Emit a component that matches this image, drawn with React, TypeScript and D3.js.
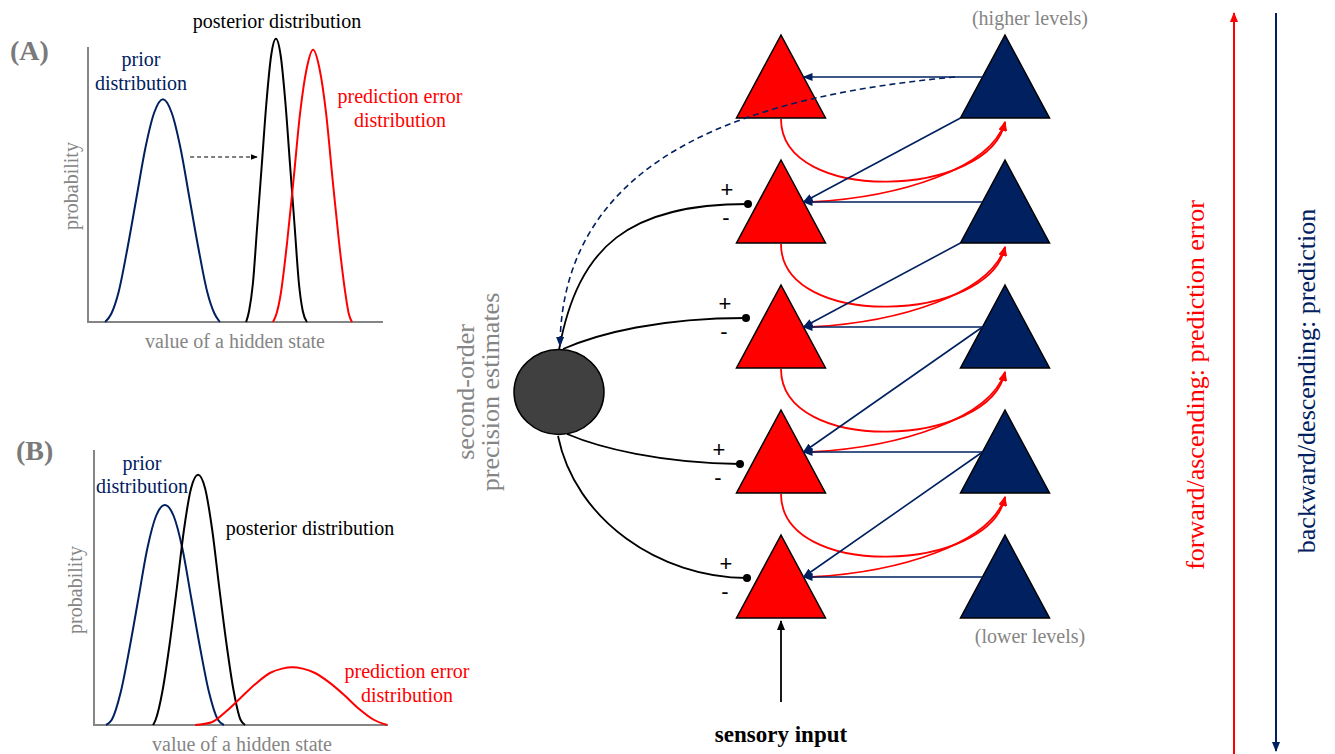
import React from 'react';
import * as d3 from 'd3';

// ---- distribution curves, panel (A): [value of hidden state, probability]
const priorA = [[5.8,0],[7.9,0.03],[10.4,0.11],[13.4,0.27],[16.4,0.45],[19.4,0.63],[22.4,0.76],[25.4,0.81],[28.4,0.76],[31.4,0.63],[34.4,0.45],[37.4,0.27],[40.4,0.11],[42.9,0.03],[44.7,0]];
const posteriorA = [[53.6,0],[54.6,0.04],[55.9,0.14],[57.3,0.34],[58.9,0.57],[60.5,0.8],[62.1,0.97],[63.7,1.03],[65.3,0.97],[66.9,0.8],[68.5,0.57],[70.1,0.34],[71.5,0.14],[72.8,0.04],[74.2,0]];
const errorA = [[62.7,0],[63.9,0.03],[65.3,0.1],[67.5,0.29],[69.7,0.52],[71.9,0.76],[74.1,0.92],[76.3,0.99],[78.5,0.92],[80.7,0.76],[82.9,0.52],[85.1,0.29],[87.3,0.1],[88.4,0.03],[89.5,0]];
const shiftA = [34.6, 57.3, 0.6]; // from, to, level of the dashed shift arrow

// ---- panel (B)
const priorB = [[4.1,0],[6.1,0.02],[9.1,0.12],[12.1,0.28],[15.1,0.46],[18.1,0.64],[21.1,0.76],[24.1,0.8],[27.1,0.76],[30.1,0.64],[33.1,0.46],[36.1,0.28],[39.1,0.12],[42.1,0.02],[44.2,0]];
const posteriorB = [[20.1,0],[21,0.02],[23.4,0.13],[25.8,0.3],[28.2,0.5],[30.6,0.71],[33,0.86],[35.4,0.91],[37.8,0.86],[40.2,0.71],[42.6,0.5],[45,0.3],[47.4,0.13],[49.8,0.02],[51.4,0]];
const errorB = [[34.4,0],[40,0.01],[45,0.05],[50,0.1],[55,0.15],[60,0.19],[64,0.205],[67.3,0.21],[71,0.205],[75,0.19],[80,0.155],[85,0.11],[90,0.06],[95,0.02],[99.7,0]];

// ---- hierarchy
const levels = [1, 2, 3, 4, 5];
const columns = ['error', 'prediction'];
const modulated = [2, 3, 4, 5];
const sideLabels = ['forward/ascending: prediction error', 'backward/descending: prediction'];

const RED = '#ff0000';
const NAVY = '#002060';
const GRAY = '#858585';
const SERIF = '"Liberation Serif", "Times New Roman", serif';

function Panel({ x, y, curves, children }) {
  const line = d3.line().x(d => x(d[0])).y(d => y(d[1])).curve(d3.curveMonotoneX);
  return (
    <g>
      <path d={`M${x(0)},${y(1)}V${y(0)}H${x(100)}`} fill="none" stroke={GRAY} strokeWidth={2} />
      {curves.map((c, i) => (
        <path key={i} d={line(c.data)} fill="none" stroke={c.color} strokeWidth={2} />
      ))}
      {children}
    </g>
  );
}

export default function App() {
  const xA = d3.scaleLinear().domain([0, 100]).range([88, 383]);
  const yA = d3.scaleLinear().domain([0, 1]).range([322, 47]);
  const xB = d3.scaleLinear().domain([0, 100]).range([94, 388]);
  const yB = d3.scaleLinear().domain([0, 1]).range([725, 450]);

  // apex of each level's triangles
  const yLevel = d3.scaleLinear().domain([1, 5]).range([35, 535]);
  const xCol = d3.scalePoint().domain(columns).range([781, 1005]);
  const H = 83, HW = 44.5;
  const rx = xCol('error'), bx = xCol('prediction');
  const arrowY = l => yLevel(l) + 42;
  const edge = 22.5; // half width at arrow height

  const tri = (cx, l) => {
    const t = yLevel(l);
    return `M${cx},${t}L${cx + HW},${t + H}L${cx - HW},${t + H}Z`;
  };

  // circle (second-order precision)
  const cx = 559, cy = 392;

  // modulatory connections from the circle to the error units
  const modPaths = {
    2: [[559, 350], [578, 245], [630, 204], [748, 204]],
    3: [[563, 349], [600, 333], [660, 318], [746, 318]],
    4: [[567, 434], [600, 448], [660, 463], [740, 464]],
    5: [[558, 436], [575, 520], [660, 578], [747, 578]],
  };
  const bez = p => {
    const path = d3.path();
    path.moveTo(p[0][0], p[0][1]);
    path.bezierCurveTo(p[1][0], p[1][1], p[2][0], p[2][1], p[3][0], p[3][1]);
    return path.toString();
  };

  return (
    <svg width={1335} height={754} style={{ position: 'absolute', left: 0, top: 0, display: 'block', background: '#fff' }}
      fontFamily={SERIF}>
      <defs>
        {[['navy', NAVY], ['red', RED], ['black', '#000']].map(([id, c]) => (
          <marker key={id} id={`ah-${id}`} viewBox="0 0 10 8" refX={9} refY={4} markerWidth={10} markerHeight={8}
            markerUnits="userSpaceOnUse" orient="auto">
            <path d="M0,0L10,4L0,8Z" fill={c} />
          </marker>
        ))}
        <marker id="ah-small" viewBox="0 0 10 8" refX={9} refY={4} markerWidth={7} markerHeight={6}
          markerUnits="userSpaceOnUse" orient="auto">
          <path d="M0,0L10,4L0,8Z" fill="#000" />
        </marker>
      </defs>

      {/* ---------- panel A ---------- */}
      <Panel x={xA} y={yA} curves={[
        { data: priorA, color: NAVY }, { data: posteriorA, color: '#000' }, { data: errorA, color: RED }]}>
        <line x1={xA(shiftA[0])} x2={xA(shiftA[1])} y1={yA(shiftA[2])} y2={yA(shiftA[2])} stroke="#000"
          strokeWidth={1.2} strokeDasharray="4,3" markerEnd="url(#ah-small)" />
      </Panel>
      <text x={10} y={60} fontSize={28} fontWeight="bold" fill="#7a7a7a">(A)</text>
      <text x={141} y={66} fontSize={20} fill={NAVY} textAnchor="middle">prior</text>
      <text x={141} y={90} fontSize={20} fill={NAVY} textAnchor="middle">distribution</text>
      <text x={277} y={28} fontSize={20} fill="#000" textAnchor="middle">posterior distribution</text>
      <text x={400} y={103} fontSize={20} fill={RED} textAnchor="middle">prediction error</text>
      <text x={400} y={127} fontSize={20} fill={RED} textAnchor="middle">distribution</text>
      <text transform="translate(78,186) rotate(-90)" fontSize={20} fill={GRAY} textAnchor="middle">probability</text>
      <text x={235} y={348} fontSize={20} fill={GRAY} textAnchor="middle">value of a hidden state</text>

      {/* ---------- panel B ---------- */}
      <Panel x={xB} y={yB} curves={[
        { data: priorB, color: NAVY }, { data: posteriorB, color: '#000' }, { data: errorB, color: RED }]} />
      <text x={16} y={460} fontSize={28} fontWeight="bold" fill="#7a7a7a">(B)</text>
      <text x={142} y={470} fontSize={20} fill={NAVY} textAnchor="middle">prior</text>
      <text x={142} y={493} fontSize={20} fill={NAVY} textAnchor="middle">distribution</text>
      <text x={310} y={535} fontSize={20} fill="#000" textAnchor="middle">posterior distribution</text>
      <text x={407} y={678} fontSize={20} fill={RED} textAnchor="middle">prediction error</text>
      <text x={407} y={702} fontSize={20} fill={RED} textAnchor="middle">distribution</text>
      <text transform="translate(82,590) rotate(-90)" fontSize={20} fill={GRAY} textAnchor="middle">probability</text>
      <text x={242} y={751} fontSize={20} fill={GRAY} textAnchor="middle">value of a hidden state</text>

      {/* ---------- hierarchy ---------- */}
      <text transform={`translate(474,${cy}) rotate(-90)`} fontSize={26} fill={GRAY} textAnchor="middle">second-order</text>
      <text transform={`translate(499,${cy}) rotate(-90)`} fontSize={26} fill={GRAY} textAnchor="middle">precision estimates</text>

      {levels.map(l => (
        <g key={l}>
          <path d={tri(rx, l)} fill={RED} stroke="#000" strokeWidth={1.5} />
          <path d={tri(bx, l)} fill={NAVY} stroke="#000" strokeWidth={1.5} />
        </g>
      ))}

      {/* ascending prediction errors */}
      {levels.slice(0, 4).map(l => {
        const base = yLevel(l) + H;
        const tip = [bx, base + 4];
        const a = bez([[rx, base + 1], [rx, base + 88], [990, base + 80], tip]);
        const b = bez([[rx + edge + 8, arrowY(l + 1)], [900, arrowY(l + 1) - 5], [990, arrowY(l + 1) - 33], tip]);
        return (
          <g key={l} fill="none" stroke={RED} strokeWidth={1.8}>
            <path d={a} markerEnd="url(#ah-red)" />
            <path d={b} markerEnd="url(#ah-red)" />
          </g>
        );
      })}

      {/* descending predictions */}
      {levels.map(l => (
        <line key={'h' + l} x1={bx - edge} x2={rx + edge} y1={arrowY(l)} y2={arrowY(l)}
          stroke={NAVY} strokeWidth={1.6} markerEnd="url(#ah-navy)" />
      ))}
      {levels.slice(0, 4).map(l => {
        const start = l <= 2 ? [bx - HW, yLevel(l) + H] : [bx - edge, arrowY(l)];
        return (
          <line key={'d' + l} x1={start[0]} y1={start[1]} x2={rx + edge} y2={arrowY(l + 1)}
            stroke={NAVY} strokeWidth={1.6} markerEnd="url(#ah-navy)" />
        );
      })}

      {/* precision */}
      <ellipse cx={cx} cy={cy} rx={45} ry={42.5} fill="#404040" stroke="#000" strokeWidth={1.5} />
      {modulated.map(l => {
        const p = modPaths[l];
        const end = p[3];
        return (
          <g key={'m' + l}>
            <path d={bez(p)} fill="none" stroke="#000" strokeWidth={1.8} />
            <circle cx={end[0]} cy={end[1]} r={4} fill="#000" />
            <text x={end[0] - 21} y={end[1] - 7} fontSize={22} fontFamily='"Liberation Sans", Arial, sans-serif' textAnchor="middle">+</text>
            <text x={end[0] - 22} y={end[1] + 21} fontSize={22} fontFamily='"Liberation Sans", Arial, sans-serif' textAnchor="middle">-</text>
          </g>
        );
      })}
      <path d={bez([[bx - 50, arrowY(1)], [760, 95], [562, 150], [cx + 1, 346]])} fill="none" stroke={NAVY}
        strokeWidth={1.6} strokeDasharray="6,4" markerEnd="url(#ah-navy)" />

      {/* sensory input */}
      <line x1={rx} x2={rx} y1={702} y2={yLevel(5) + H + 3} stroke="#000" strokeWidth={1.8} markerEnd="url(#ah-black)" />
      <text x={rx} y={742} fontSize={23} fontWeight="bold" textAnchor="middle">sensory input</text>

      <text x={bx + 25} y={25} fontSize={20} fill={GRAY} textAnchor="middle">(higher levels)</text>
      <text x={bx + 25} y={643} fontSize={20} fill={GRAY} textAnchor="middle">(lower levels)</text>

      {/* direction arrows */}
      <line x1={1234} x2={1234} y1={756} y2={13} stroke={RED} strokeWidth={2} markerEnd="url(#ah-red)" />
      <line x1={1276} x2={1276} y1={13} y2={751} stroke={NAVY} strokeWidth={2} markerEnd="url(#ah-navy)" />
      <text transform="translate(1204,385) rotate(-90)" fontSize={26} fill={RED} textAnchor="middle">{sideLabels[0]}</text>
      <text transform="translate(1315,381) rotate(-90)" fontSize={26} fill={NAVY} textAnchor="middle">{sideLabels[1]}</text>
    </svg>
  );
}
